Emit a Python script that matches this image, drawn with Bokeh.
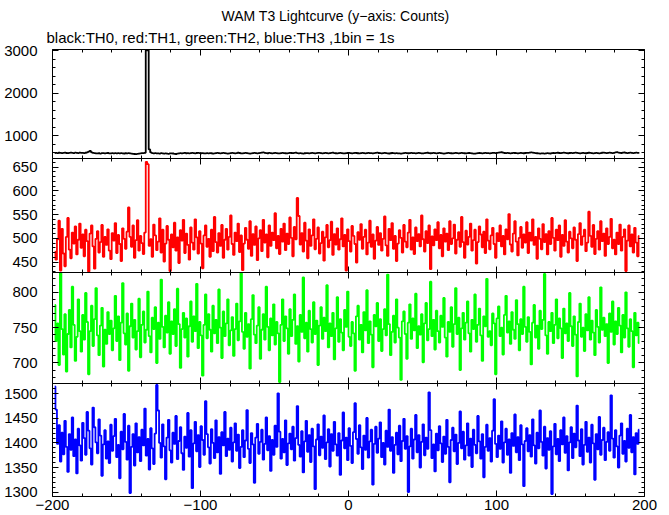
import numpy as np
from bokeh.plotting import figure
from bokeh.layouts import column
from bokeh.models import Range1d, LinearAxis, SingleIntervalTicker, Title
from bokeh.embed import file_html
from bokeh.resources import INLINE

# ---------------- data (1-s bins) ----------------
T_START = -198.5  # centre of first 1-s bin

th0 = [598, 602, 596, 605, 600, 594, 603, 608, 599, 597, 604, 610, 601, 596, 606, 603, 598, 609, 604, 600,
       597, 605, 612, 632, 648, 615, 601, 596, 590, 588, 593, 586, 595, 598, 590, 594, 599, 592, 588, 596,
       591, 594, 589, 596, 592, 598, 590, 587, 593, 589, 596, 591, 586, 580, 575, 572, 578, 584, 590, 594,
       597, 603, 3005, 3005, 682, 612, 598, 590, 595, 588, 592, 586, 594, 589, 583, 591, 586, 580, 588, 592,
       587, 579, 576, 584, 590, 594, 588, 596, 600, 593, 598, 590, 595, 602, 597, 592, 599, 604, 596, 593,
       598, 592, 588, 595, 590, 597, 593, 586, 591, 598, 602, 595, 589, 594, 600, 596, 590, 585, 592, 597,
       601, 594, 590, 598, 605, 599, 592, 588, 595, 600, 594, 589, 585, 592, 598, 603, 597, 591, 596, 601,
       607, 615, 604, 598, 593, 600, 596, 590, 594, 601, 597, 592, 588, 596, 602, 598, 593, 590, 597, 603,
       599, 594, 600, 606, 598, 592, 596, 590, 585, 593, 598, 594, 589, 596, 601, 597, 592, 598, 604, 600,
       595, 590, 597, 602, 596, 591, 595, 600, 606, 598, 593, 589, 596, 601, 597, 592, 588, 594, 599, 603,
       597, 592, 598, 604, 599, 593, 589, 595, 600, 596, 591, 597, 603, 598, 594, 590, 596, 601, 606, 599,
       594, 589, 596, 602, 597, 591, 587, 593, 599, 594, 590, 596, 592, 588, 584, 590, 597, 602, 598, 593,
       597, 602, 598, 594, 590, 596, 601, 597, 592, 588, 595, 600, 605, 598, 593, 597, 602, 596, 591, 595,
       600, 595, 590, 586, 592, 598, 603, 597, 593, 589, 595, 601, 597, 592, 596, 602, 598, 593, 589, 594,
       599, 595, 590, 586, 583, 588, 594, 599, 596, 591, 597, 603, 598, 594, 590, 596, 601, 604, 598, 602,
       608, 612, 617, 606, 599, 595, 601, 597, 592, 598, 603, 599, 594, 590, 596, 601, 597, 593, 599, 604,
       600, 606, 613, 609, 603, 597, 593, 589, 584, 588, 592, 586, 590, 595, 591, 587, 594, 599, 595, 600,
       605, 599, 594, 600, 607, 602, 597, 593, 599, 604, 598, 603, 609, 601, 596, 592, 598, 603, 597, 593,
       599, 605, 600, 595, 590, 596, 602, 597, 592, 598, 605, 610, 602, 596, 601, 607, 602, 597, 603, 612,
       619, 610, 604, 599, 606, 611, 603, 598, 604, 609, 601, 596, 602, 607, 600, 604]

th1 = [472, 455, 498, 537, 432, 520, 468, 441, 503, 543, 476, 458, 512, 489, 525, 466, 497, 531, 480, 508,
       462, 518, 494, 430, 510, 527, 483, 436, 499, 515, 470, 492, 528, 461, 503, 486, 519, 474, 456, 511,
       495, 532, 469, 507, 488, 452, 521, 499, 478, 514, 565, 503, 482, 527, 459, 496, 538, 474, 505, 490,
       467, 512, 661, 656, 484, 498, 461, 529, 506, 475, 493, 542, 470, 518, 451, 489, 526, 497, 431, 508,
       481, 533, 474, 502, 448, 517, 495, 539, 469, 510, 486, 455, 523, 491, 476, 540, 502, 468, 515, 489,
       437, 506, 527, 482, 499, 461, 518, 473, 545, 492, 470, 511, 484, 528, 459, 497, 520, 476, 503, 548,
       488, 465, 512, 494, 531, 471, 506, 433, 489, 522, 497, 478, 536, 463, 509, 486, 525, 454, 500, 517,
       473, 539, 491, 508, 460, 527, 484, 512, 496, 553, 479, 505, 467, 520, 493, 531, 475, 510, 488, 544,
       501, 462, 524, 498, 585, 547, 487, 511, 472, 533, 495, 458, 519, 484, 506, 540, 477, 499, 523, 468,
       490, 514, 453, 502, 528, 481, 496, 535, 465, 509, 487, 521, 476, 498, 542, 483, 507, 432, 519, 494,
       472, 526, 505, 488, 449, 513, 497, 530, 478, 503, 518, 466, 491, 537, 482, 508, 457, 495, 524, 486,
       511, 474, 499, 546, 485, 463, 520, 496, 532, 478, 505, 452, 489, 517, 501, 470, 528, 493, 481, 512,
       539, 476, 502, 467, 523, 494, 509, 483, 548, 498, 472, 515, 490, 527, 435, 504, 485, 519, 496, 534,
       479, 507, 462, 521, 493, 510, 475, 536, 488, 500, 529, 468, 497, 513, 482, 545, 492, 459, 516, 487,
       503, 531, 474, 496, 518, 447, 492, 525, 508, 481, 514, 469, 540, 495, 477, 506, 522, 488, 459, 511,
       494, 527, 483, 505, 466, 519, 498, 551, 487, 472, 510, 536, 493, 464, 501, 524, 480, 508, 491, 534,
       469, 512, 495, 540, 486, 503, 457, 521, 499, 477, 530, 492, 509, 466, 515, 488, 543, 501, 474, 518,
       496, 527, 461, 507, 484, 538, 493, 470, 514, 500, 479, 523, 497, 452, 509, 532, 486, 504, 518, 473,
       491, 556, 505, 482, 528, 467, 499, 515, 476, 536, 494, 510, 463, 521, 488, 503, 541, 479, 497, 466,
       512, 488, 529, 474, 503, 519, 431, 495, 527, 483, 508, 470, 522, 491, 462, 505]

th2 = [782, 731, 756, 697, 829, 748, 712, 769, 688, 741, 775, 722, 808, 754, 703, 737, 790, 745, 716, 768,
       733, 799, 758, 684, 745, 781, 724, 762, 806, 739, 711, 753, 778, 695, 747, 727, 772, 741, 760, 718,
       749, 795, 731, 766, 704, 757, 813, 742, 726, 770, 689, 752, 784, 736, 761, 719, 745, 791, 708, 754,
       773, 729, 747, 801, 738, 715, 764, 748, 779, 700, 757, 734, 818, 751, 722, 767, 743, 786, 713, 759,
       741, 776, 724, 805, 755, 693, 748, 771, 736, 763, 709, 752, 787, 730, 766, 745, 812, 721, 758, 739,
       682, 754, 797, 735, 769, 747, 716, 781, 742, 761, 728, 804, 750, 707, 773, 738, 756, 790, 725, 746,
       765, 710, 748, 784, 732, 759, 827, 744, 720, 771, 737, 755, 692, 762, 796, 740, 728, 753, 779, 706,
       747, 769, 733, 808, 751, 718, 763, 739, 783, 726, 758, 742, 673, 754, 790, 731, 766, 749, 713, 776,
       738, 761, 797, 727, 752, 702, 768, 744, 821, 735, 757, 716, 774, 748, 729, 786, 741, 760, 697, 753,
       779, 734, 764, 745, 810, 722, 756, 738, 771, 705, 749, 793, 730, 762, 743, 718, 775, 751, 801, 737,
       724, 758, 742, 689, 766, 781, 733, 754, 715, 772, 746, 803, 728, 759, 740, 694, 768, 752, 785, 731,
       762, 717, 748, 776, 739, 825, 755, 711, 744, 767, 729, 790, 750, 736, 676, 759, 773, 741, 706, 757,
       783, 734, 763, 746, 798, 721, 752, 740, 769, 701, 756, 785, 732, 748, 815, 738, 761, 719, 774, 745,
       729, 767, 751, 792, 736, 709, 758, 744, 779, 723, 755, 806, 741, 764, 690, 749, 771, 733, 757, 787,
       742, 716, 761, 748, 797, 730, 754, 777, 739, 703, 766, 752, 819, 737, 745, 725, 770, 756, 684, 763,
       780, 738, 750, 712, 768, 795, 743, 759, 727, 772, 747, 734, 789, 755, 718, 762, 741, 808, 751, 730,
       765, 744, 698, 757, 782, 736, 753, 720, 774, 748, 761, 826, 739, 713, 758, 745, 771, 728, 754, 790,
       735, 763, 749, 707, 777, 742, 756, 731, 799, 752, 724, 766, 740, 681, 758, 784, 737, 750, 717, 769,
       746, 793, 733, 760, 743, 711, 775, 751, 729, 807, 747, 764, 738, 755, 700, 770, 744, 787, 726, 759,
       741, 778, 753, 715, 768, 736, 800, 749, 723, 762, 745, 694, 771, 739, 757, 728]

th3 = [1515, 1468, 1398, 1436, 1362, 1421, 1377, 1445, 1392, 1341, 1418, 1386, 1452, 1373, 1407, 1338, 1429, 1395, 1364, 1441,
       1410, 1376, 1463, 1425, 1389, 1356, 1472, 1432, 1401, 1379, 1448, 1415, 1333, 1397, 1426, 1368, 1403, 1359, 1437, 1384,
       1414, 1449, 1371, 1396, 1328, 1423, 1387, 1459, 1402, 1366, 1435, 1298, 1392, 1418, 1354, 1440, 1381, 1412, 1363, 1427,
       1395, 1470, 1374, 1408, 1346, 1430, 1389, 1357, 1419, 1518, 1466, 1400, 1370, 1438, 1393, 1326, 1411, 1447, 1385, 1360,
       1421, 1398, 1455, 1367, 1404, 1432, 1379, 1345, 1413, 1390, 1461, 1372, 1426, 1308, 1399, 1443, 1383, 1416, 1351, 1434,
       1406, 1376, 1485, 1418, 1391, 1358, 1428, 1400, 1369, 1446, 1381, 1412, 1337, 1422, 1395, 1463, 1373, 1409, 1386, 1431,
       1362, 1401, 1440, 1384, 1417, 1349, 1392, 1426, 1371, 1405, 1467, 1388, 1359, 1420, 1397, 1319, 1411, 1439, 1378, 1402,
       1427, 1366, 1398, 1452, 1385, 1414, 1343, 1406, 1376, 1435, 1392, 1501, 1423, 1368, 1408, 1381, 1446, 1355, 1399, 1419,
       1387, 1433, 1364, 1410, 1475, 1396, 1372, 1424, 1340, 1403, 1445, 1382, 1416, 1361, 1429, 1393, 1306, 1407, 1438, 1375,
       1413, 1390, 1456, 1367, 1401, 1428, 1352, 1418, 1384, 1443, 1397, 1374, 1420, 1335, 1405, 1462, 1389, 1411, 1365, 1430,
       1394, 1359, 1422, 1481, 1408, 1378, 1436, 1391, 1347, 1415, 1386, 1451, 1370, 1403, 1427, 1315, 1398, 1433, 1380, 1409,
       1442, 1371, 1400, 1356, 1425, 1392, 1468, 1384, 1412, 1339, 1396, 1421, 1377, 1435, 1363, 1404, 1449, 1388, 1414, 1300,
       1393, 1429, 1368, 1407, 1457, 1381, 1416, 1350, 1402, 1438, 1375, 1411, 1388, 1503, 1426, 1369, 1397, 1342, 1419, 1385,
       1434, 1399, 1361, 1413, 1378, 1447, 1392, 1320, 1406, 1431, 1383, 1417, 1357, 1400, 1464, 1389, 1423, 1366, 1395, 1440,
       1374, 1409, 1351, 1427, 1396, 1379, 1455, 1403, 1368, 1418, 1330, 1392, 1437, 1384, 1410, 1362, 1425, 1489, 1398, 1371,
       1415, 1388, 1444, 1360, 1401, 1429, 1376, 1407, 1339, 1420, 1394, 1458, 1381, 1412, 1365, 1436, 1397, 1312, 1404, 1430,
       1383, 1416, 1372, 1448, 1395, 1358, 1421, 1389, 1466, 1402, 1374, 1433, 1348, 1410, 1386, 1424, 1296, 1393, 1439, 1377,
       1408, 1363, 1426, 1397, 1452, 1380, 1414, 1344, 1401, 1432, 1369, 1419, 1391, 1476, 1405, 1373, 1428, 1356, 1396, 1443,
       1382, 1411, 1360, 1437, 1399, 1325, 1418, 1387, 1453, 1376, 1406, 1431, 1365, 1402, 1422, 1384, 1497, 1409, 1370, 1426,
       1393, 1350, 1415, 1440, 1378, 1404, 1362, 1429, 1390, 1457, 1381, 1412, 1336, 1420, 1398, 1427]

series = [th0, th1, th2, th3]
colors = ["#000000", "#ff0000", "#00ff00", "#0000ff"]
y_limits = [(470, 3025), (428, 668), (671, 828), (1291, 1521)]
y_major = [1000, 50, 50, 50]
x_limits = (-200, 200)
x_major = 100

title_text = "WAM T3 Lightcurve (y\u2212axis: Counts)"
subtitle_text = "black:TH0, red:TH1, green:TH2, blue:TH3 ,1bin = 1s"

FONT = "Liberation Sans"
W = 669
B_LEFT, B_RIGHT = 52, 25
frame_h = [109, 114, 111, 113]
top_border = 49
bottom_border = 19

xr = Range1d(*x_limits)


def add_axis(p, side, interval, labels, standoff=0, overrides=None):
    ax = LinearAxis(ticker=SingleIntervalTicker(interval=interval, num_minor_ticks=5))
    ax.major_tick_in = 6
    ax.major_tick_out = 0
    ax.minor_tick_in = 3
    ax.minor_tick_out = 0
    ax.axis_line_color = "black"
    ax.axis_line_width = 1
    ax.major_tick_line_color = "black"
    ax.minor_tick_line_color = "black"
    if labels:
        ax.major_label_text_font = FONT
        ax.major_label_text_font_size = "15px"
        ax.major_label_text_color = "black"
        ax.major_label_standoff = standoff
        if overrides:
            ax.major_label_overrides = overrides
    else:
        ax.major_label_text_font_size = "0px"
        ax.major_label_text_color = None
        ax.major_label_standoff = 0
    p.add_layout(ax, side)


figs = []
for k in range(4):
    top = top_border if k == 0 else 0
    bot = bottom_border if k == 3 else 0
    p = figure(width=W, height=frame_h[k] + top + bot,
               x_range=xr, y_range=Range1d(*y_limits[k]),
               output_backend="svg", toolbar_location=None,
               x_axis_location=None, y_axis_location=None,
               min_border_left=B_LEFT, min_border_right=B_RIGHT,
               min_border_top=top, min_border_bottom=bot,
               background_fill_color="white", border_fill_color="white")
    p.outline_line_color = None
    p.xgrid.grid_line_color = None
    p.ygrid.grid_line_color = None

    add_axis(p, "left", y_major[k], True, standoff=15)
    add_axis(p, "right", y_major[k], False)
    add_axis(p, "above", x_major, False)
    add_axis(p, "below", x_major, k == 3, standoff=3,
             overrides={-200: "\u2212200", -100: "\u2212100"})

    ys = series[k]
    xs = T_START + np.arange(len(ys))
    p.step(xs, ys, mode="center", line_color=colors[k], line_width=1.8)
    figs.append(p)

p1 = figs[0]
p1.add_layout(Title(text=subtitle_text, align="left", offset=-6, standoff=7,
                    text_font=FONT, text_font_size="15px", text_font_style="normal",
                    text_color="black"), "above")
p1.add_layout(Title(text=title_text, align="left", offset=169, standoff=0,
                    text_font=FONT, text_font_size="14px", text_font_style="normal",
                    text_color="black"), "above")

layout = column(*figs, spacing=0)
open("out.html", "w").write(file_html(layout, INLINE))
